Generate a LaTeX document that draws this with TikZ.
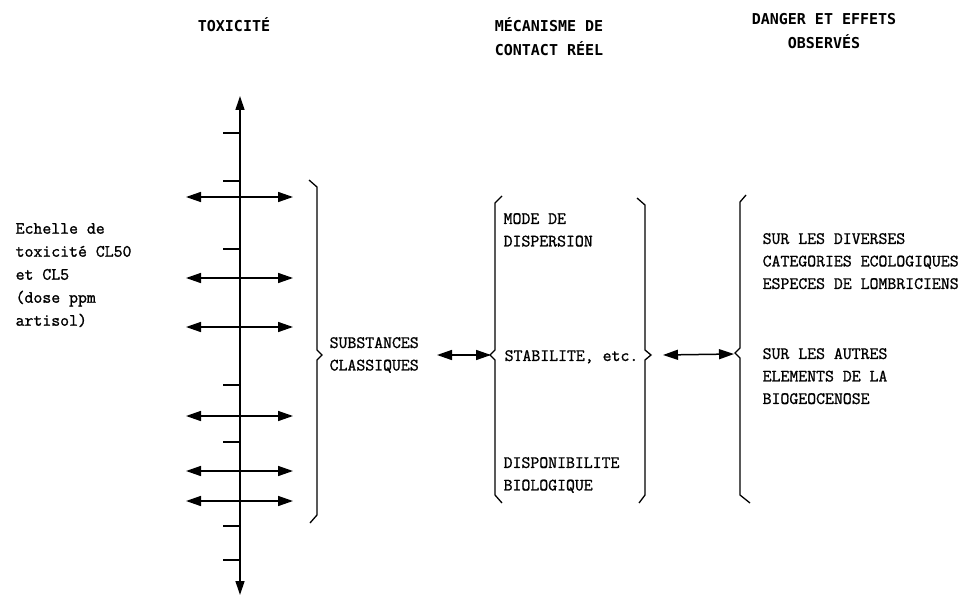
\documentclass[tikz,border=0pt]{standalone}
\usepackage{fontspec}
\newfontfamily\headfont{DejaVu Sans Mono Bold}
\newfontfamily\bodyfont{Latin Modern Mono}[FakeBold=1.2]
\usetikzlibrary{arrows.meta}

\tikzset{
  head/.style={font=\headfont\fontsize{15}{23.5}\selectfont, align=center, inner sep=0pt},
  txt/.style={font=\bodyfont\fontsize{17.3}{22.5}\selectfont, align=left, anchor=north west, inner sep=0pt},
  dbl/.style={{Triangle[length=15pt,width=10pt]}-{Triangle[length=15pt,width=10pt]}, line width=1.5pt},
  brace/.style={line width=1.3pt, line join=miter},
}

\begin{document}
\begin{tikzpicture}[x=1pt, y=-1pt, line width=1.3pt]
  \useasboundingbox (0,0) rectangle (974,596);
  % headers
  \node[head] (Tox)  at (234,25)   {TOXICITÉ};
  \node[head] (Meca) at (549,36.5) {MÉCANISME DE\\CONTACT RÉEL};
  \node[head] (Dang) at (824,31)   {DANGER ET EFFETS\\OBSERVÉS};
  % toxicity scale
  \coordinate (AxBot) at (240,595);
  \coordinate (AxTop) at (240,96);
  \draw[{Triangle[length=14pt,width=9pt]}-{Triangle[length=14pt,width=9pt]}] (AxBot) -- (AxTop);
  \foreach \y in {133,181,249,385,442,526,560}
    \draw (223,\y) -- (240,\y);
  \foreach \y [count=\i] in {197,278,327,416,471,501} {
    \coordinate (L\i) at (186,\y);
    \coordinate (R\i) at (293,\y);
    \draw[dbl] (L\i) -- (R\i);
  }
  \node[txt, font=\bodyfont\fontsize{17.3}{23}\selectfont] (Ech) at (15,222.5)
    {Echelle de\\toxicité CL50\\et CL5\\(dose ppm\\artisol)};
  % braces
  \draw[brace] (309,180) -- (317,187) -- (317,350) -- (322,355) -- (317,360) -- (317,515) -- (310,523);
  \draw[brace] (502,196) -- (495,203) -- (495,350) -- (490,355) -- (495,360) -- (495,495) -- (502,503);
  \draw[brace] (637,198) -- (645,205) -- (645,350) -- (651,355) -- (645,360) -- (645,495) -- (639,503);
  \draw[brace] (746,195) -- (740,202) -- (740,348) -- (735,353) -- (740,358) -- (740,495) -- (750,503);
  % texts
  \node[txt] (Subst) at (329,336.5) {SUBSTANCES\\CLASSIQUES};
  \node[txt] (Mode)  at (503,212.5) {MODE DE\\DISPERSION};
  \node[txt] (Stab)  at (504,349.5) {STABILITE, etc.};
  \node[txt] (Disp)  at (503,456.5) {DISPONIBILITE\\BIOLOGIQUE};
  \node[txt] (Div)   at (762,232.5) {SUR LES DIVERSES\\CATEGORIES ECOLOGIQUES\\ESPECES DE LOMBRICIENS};
  \node[txt] (Aut)   at (762,347.5) {SUR LES AUTRES\\ELEMENTS DE LA\\BIOGEOCENOSE};
  % links
  \coordinate (SubR) at (437,355);
  \coordinate (B2)   at (491,355);
  \coordinate (B3)   at (663,355);
  \coordinate (B4)   at (734,354);
  \draw[dbl] (SubR) -- (B2);
  \draw[dbl] (B3) -- (B4);
\end{tikzpicture}
\end{document}
